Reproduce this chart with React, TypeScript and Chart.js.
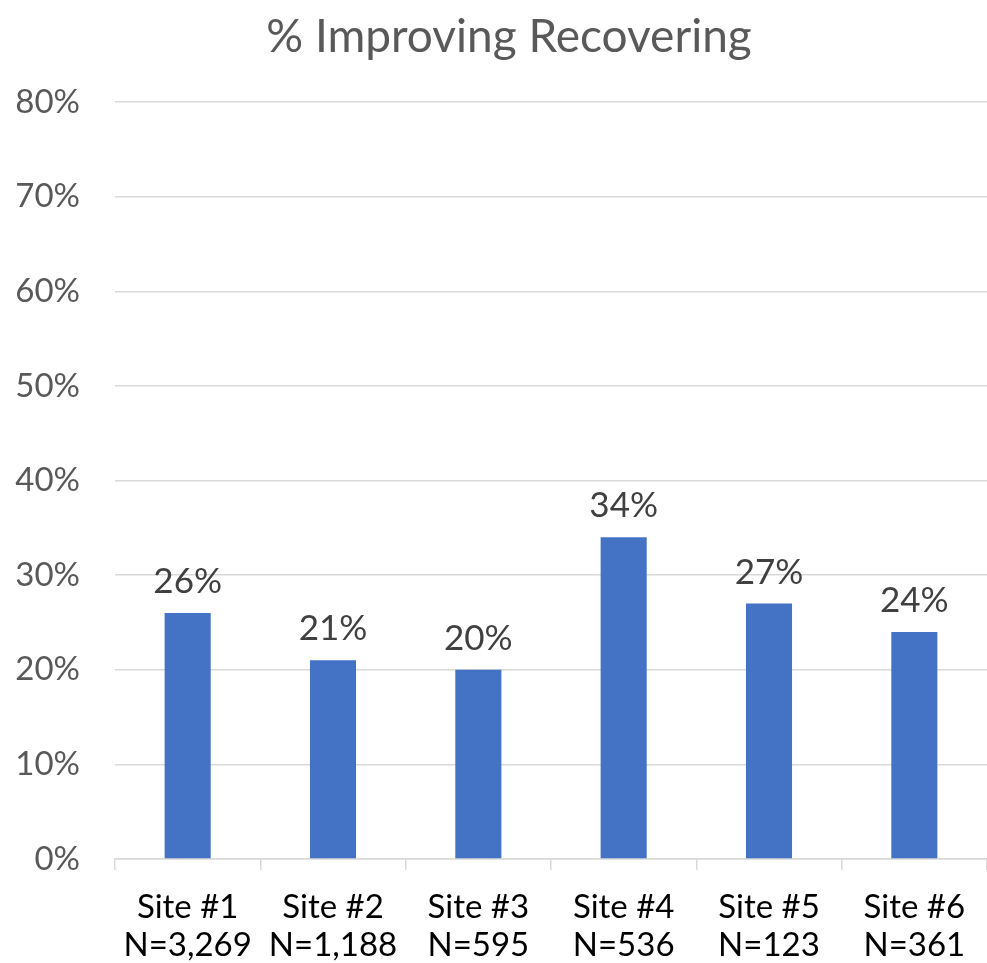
import React, { useEffect, useRef } from "react";
import { Chart, registerables } from "chart.js";

Chart.register(...registerables);

const sites = ["Site #1", "Site #2", "Site #3", "Site #4", "Site #5", "Site #6"];
const counts = ["N=3,269", "N=1,188", "N=595", "N=536", "N=123", "N=361"];
const improving = [26, 21, 20, 34, 27, 24];
const yTicksMax = 80;
const yStep = 10;
const titleText = "% Improving Recovering";

const FONT = "Lato, 'Open Sans', sans-serif";

const valueLabels = {
  id: "valueLabels",
  afterDatasetsDraw(chart: any) {
    const ctx = chart.ctx;
    const meta = chart.getDatasetMeta(0);
    ctx.save();
    ctx.font = `35px ${FONT}`;
    ctx.fillStyle = "#404040";
    ctx.textAlign = "center";
    ctx.textBaseline = "alphabetic";
    meta.data.forEach((bar: any, i: number) => {
      ctx.fillText(`${improving[i]}%`, bar.x, bar.y - 20);
    });
    ctx.restore();
  },
};

const titleDraw = {
  id: "titleDraw",
  afterDraw(chart: any) {
    const ctx = chart.ctx;
    ctx.save();
    ctx.font = `46px ${FONT}`;
    ctx.fillStyle = "#595959";
    ctx.textAlign = "center";
    ctx.textBaseline = "middle";
    ctx.fillText(titleText, 509, 37);
    ctx.restore();
  },
};

export default function App() {
  const ref = useRef<HTMLCanvasElement | null>(null);
  useEffect(() => {
    if (!ref.current) return;
    const chart = new Chart(ref.current, {
      type: "bar",
      data: {
        labels: sites.map((s, i) => [s, counts[i]]),
        datasets: [
          {
            data: improving,
            backgroundColor: "#4472C4",
            barPercentage: 0.317,
            categoryPercentage: 1,
          },
        ],
      },
      options: {
        responsive: false,
        animation: false,
        layout: { padding: { top: 102, left: 0, right: 0, bottom: 0 } },
        plugins: {
          legend: { display: false },
          tooltip: { enabled: false },
          title: { display: false },
        },
        scales: {
          x: {
            afterFit(scale: any) {
              scale.height = 104;
            },
            grid: {
              drawOnChartArea: false,
              drawTicks: true,
              tickLength: 11,
              color: "#d9d9d9",
              lineWidth: 1.5,
              offset: true,
            },
            border: { color: "#d9d9d9", width: 1.5 },
            ticks: {
              color: "#000000",
              padding: 18,
              maxRotation: 0,
              font: { family: FONT, size: 33, lineHeight: 38 / 33 },
            },
          },
          y: {
            min: 0,
            max: yTicksMax,
            afterFit(scale: any) {
              scale.width = 115;
            },
            grid: { color: "#d9d9d9", lineWidth: 1.5, drawTicks: false },
            border: { display: false },
            ticks: {
              stepSize: yStep,
              padding: 35,
              color: "#595959",
              font: { family: FONT, size: 33 },
              callback: (v: any) => `${v}%`,
            },
          },
        },
      },
      plugins: [valueLabels, titleDraw],
    });
    return () => chart.destroy();
  }, []);
  return (
    <div style={{ position: "absolute", left: 0, top: 0, width: 987, height: 963, background: "#fff" }}>
      <canvas ref={ref} width={987} height={963} />
    </div>
  );
}
